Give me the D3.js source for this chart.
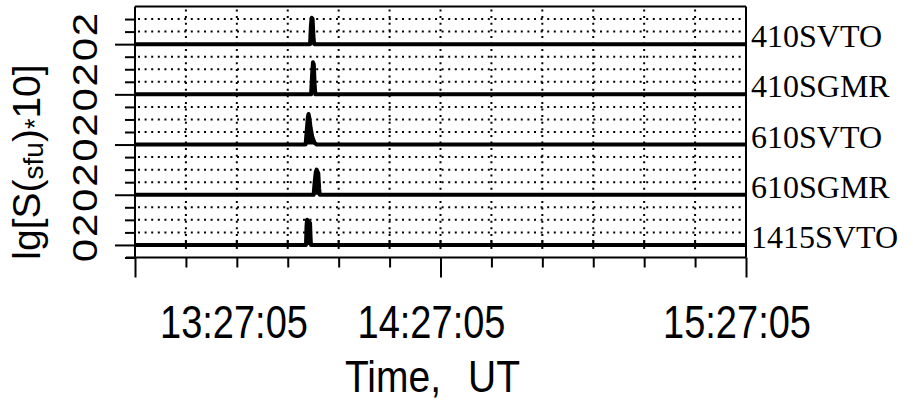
<!DOCTYPE html>
<html>
<head>
<meta charset="utf-8">
<script src="https://cdn.jsdelivr.net/npm/d3@7/dist/d3.min.js"></script>
<style>
  body { margin: 0; background: #fff; }
  text { fill: #000; }
</style>
</head>
<body>
<svg id="chart" width="913" height="402"></svg>
<script>
// Stations, top panel first
const stations = ["410SVTO", "410SGMR", "610SVTO", "610SGMR", "1415SVTO"];

// Time window (UT) and the 10-minute tick step
const startTime = "13:27:05";
const endTime = "15:27:05";
const tickStepMinutes = 10;

// Per-panel tick labels: lg value -> label
const panelTickValues = [0, 1, 2, 3];
const panelTickLabels = ["0", "", "2", ""];

// Records are [UT, lg(S*10)]
const svto410 = [
  ["13:27:05", 0], ["14:01:28", 0], ["14:01:38", 1.5], ["14:01:47", 2.1],
  ["14:01:58", 2.0], ["14:02:08", 0.6], ["14:02:16", 0], ["15:27:05", 0]
];
const sgmr410 = [
  ["13:27:05", 0], ["14:01:40", 0], ["14:01:52", 1.6], ["14:02:02", 2.55],
  ["14:02:12", 2.4], ["14:02:22", 0.8], ["14:02:30", 0], ["15:27:05", 0]
];
const svto610 = [
  ["13:27:05", 0], ["14:00:35", 0], ["14:00:50", 1.2], ["14:01:02", 2.2],
  ["14:01:10", 2.44], ["14:01:20", 2.1], ["14:01:35", 1.3], ["14:01:55", 0.6],
  ["14:02:20", 0.15], ["14:02:45", 0], ["15:27:05", 0]
];
const sgmr610 = [
  ["13:27:05", 0], ["14:02:10", 0], ["14:02:22", 1.0], ["14:02:35", 1.8],
  ["14:02:45", 2.0], ["14:02:55", 1.85], ["14:03:05", 1.7], ["14:03:15", 0.5],
  ["14:03:22", 0], ["15:27:05", 0]
];
const svto1415 = [
  ["13:27:05", 0], ["14:00:40", 0], ["14:00:46", 1.5], ["14:00:52", 2.0],
  ["14:01:05", 1.95], ["14:01:15", 1.8], ["14:01:28", 1.75], ["14:01:33", 0.8],
  ["14:01:38", 0], ["15:27:05", 0]
];
const seriesList = [svto410, sgmr410, svto610, sgmr610, svto1415];

// ---- layout ----
const plotLeft = 135, plotRight = 746, plotTop = 6.5, plotBottom = 257.5;
const panelSpan = 4;                       // lg units per panel
const nPanels = stations.length;
const parseUT = d3.timeParse("%H:%M:%S");
const fmtUT = d3.timeFormat("%H:%M:%S");
const t0 = parseUT(startTime), t1 = parseUT(endTime);
const sans = "Liberation Sans, Arial, sans-serif";
const serif = "Liberation Serif, Times New Roman, serif";

const x = d3.scaleTime().domain([t0, t1]).range([plotLeft, plotRight]);
const y = d3.scaleLinear().domain([-1, panelSpan * (nPanels - 1) + 3]).range([plotBottom, plotTop]);
const offsetOf = i => (nPanels - 1 - i) * panelSpan;

const svg = d3.select("#chart");

// time ticks every 10 minutes
const totalMinutes = (t1 - t0) / 60000;
const timeTicks = d3.range(0, totalMinutes + 1, tickStepMinutes).map(m => d3.timeMinute.offset(t0, m));
const isHour = d => ((d - t0) / 60000) % 60 === 0;

// ---- dotted grid ----
const grid = svg.append("g").attr("stroke", "#000").attr("stroke-width", 2)
  .attr("stroke-dasharray", "2,4.6").attr("fill", "none");
const gridLevels = [];
for (let i = 0; i < nPanels; i++) {
  [1, 2, 3].forEach(v => {
    const lv = offsetOf(i) + v;
    if (lv < panelSpan * (nPanels - 1) + 3) gridLevels.push(lv);
  });
}
grid.selectAll("line.h").data(gridLevels).join("line").attr("class", "h")
  .attr("x1", plotLeft + 3).attr("x2", plotRight - 2)
  .attr("y1", d => y(d)).attr("y2", d => y(d));
grid.selectAll("line.v").data(timeTicks.slice(1, -1)).join("line").attr("class", "v")
  .attr("x1", d => x(d)).attr("x2", d => x(d))
  .attr("y1", plotTop + 3).attr("y2", y(0));

// ---- frame ----
const frame = svg.append("g").attr("stroke", "#000").attr("stroke-width", 2).attr("fill", "none");
frame.append("line").attr("x1", plotLeft).attr("x2", plotRight).attr("y1", plotTop).attr("y2", plotTop);
frame.append("line").attr("x1", plotRight).attr("x2", plotRight).attr("y1", plotTop).attr("y2", plotBottom);

// ---- y axis (stacked panels) ----
const yTickVals = d3.range(-1, panelSpan * (nPanels - 1) + 3);
const yAxis = d3.axisLeft(y).tickValues(yTickVals).tickSize(10).tickFormat("");
const gy = svg.append("g").attr("transform", `translate(${plotLeft},0)`).call(yAxis);
gy.select(".domain").attr("stroke-width", 2).attr("d", `M0,${plotTop}V${plotBottom}`);
gy.selectAll(".tick line").attr("stroke-width", 2)
  .attr("x2", d => (((d % panelSpan) + panelSpan) % panelSpan === 0 ? -20 : -10));

const yLabels = yTickVals.filter(v => v >= 0).map(v => {
  const k = panelTickValues.indexOf(v % panelSpan);
  return { v, label: panelTickLabels[k] };
}).filter(d => d.label !== "");
svg.append("g").selectAll("text").data(yLabels).join("text")
  .attr("transform", d => `translate(85,${y(d.v) + 5.5}) rotate(-90) scale(1.2,1)`)
  .attr("text-anchor", "middle").attr("dominant-baseline", "central")
  .style("font-family", sans).style("font-size", "35px")
  .text(d => d.label);

// y title
const yt = svg.append("text")
  .attr("transform", "translate(40,162) rotate(-90)")
  .attr("text-anchor", "middle")
  .style("font-family", sans).style("font-size", "39px");
yt.append("tspan").text("lg[S(");
yt.append("tspan").style("font-size", "28px").attr("dy", 3).text("sfu");
yt.append("tspan").attr("dy", -3).text(")");
yt.append("tspan").style("font-size", "27px").attr("dy", 4).text("*");
yt.append("tspan").attr("dy", -4).text("10]");

// ---- x axis ----
const xAxis = d3.axisBottom(x).tickValues(timeTicks).tickSize(10).tickFormat("");
const gx = svg.append("g").attr("transform", `translate(0,${plotBottom})`).call(xAxis);
gx.select(".domain").attr("stroke-width", 2).attr("d", `M${plotLeft - 9},0H${plotRight}`);
gx.selectAll(".tick line").attr("stroke-width", 2).attr("y2", d => (isHour(d) ? 20 : 10));

// short ticks on the bottom panel baseline
svg.append("g").selectAll("line").data(timeTicks.slice(1, -1)).join("line")
  .attr("x1", d => x(d)).attr("x2", d => x(d))
  .attr("y1", y(0) - 5).attr("y2", y(0) + 4)
  .attr("stroke", "#000").attr("stroke-width", 2);

// hour labels; the leftmost one is kept inside the axis span
const hourTicks = timeTicks.filter(isHour);
svg.append("g").selectAll("text").data(hourTicks).join("text")
  .attr("transform", (d, i) => `translate(${i === 0 ? x(d) + 25 : x(d) - 9},338) scale(1,1.2)`)
  .attr("text-anchor", (d, i) => (i === 0 ? "start" : "middle"))
  .style("font-family", sans).style("font-size", "38px")
  .text(d => fmtUT(d));

const xt = svg.append("text").attr("transform", "translate(345,392) scale(1,1.12)")
  .attr("text-anchor", "start")
  .style("font-family", sans).style("font-size", "39px");
xt.append("tspan").text("Time,");
xt.append("tspan").attr("dx", 27).text("UT");

// ---- signal traces ----
const panels = svg.append("g");
seriesList.forEach((series, i) => {
  const off = offsetOf(i);
  const line = d3.line().x(d => x(parseUT(d[0]))).y(d => y(d[1] + off));
  panels.append("path").datum(series).attr("d", line)
    .attr("fill", "#000").attr("stroke", "#000").attr("stroke-width", 4)
    .attr("stroke-linejoin", "round");
  panels.append("text")
    .attr("x", plotRight + 5).attr("y", y(off) + 3)
    .style("font-family", serif).style("font-size", "32px")
    .text(stations[i]);
});
</script>
</body>
</html>
